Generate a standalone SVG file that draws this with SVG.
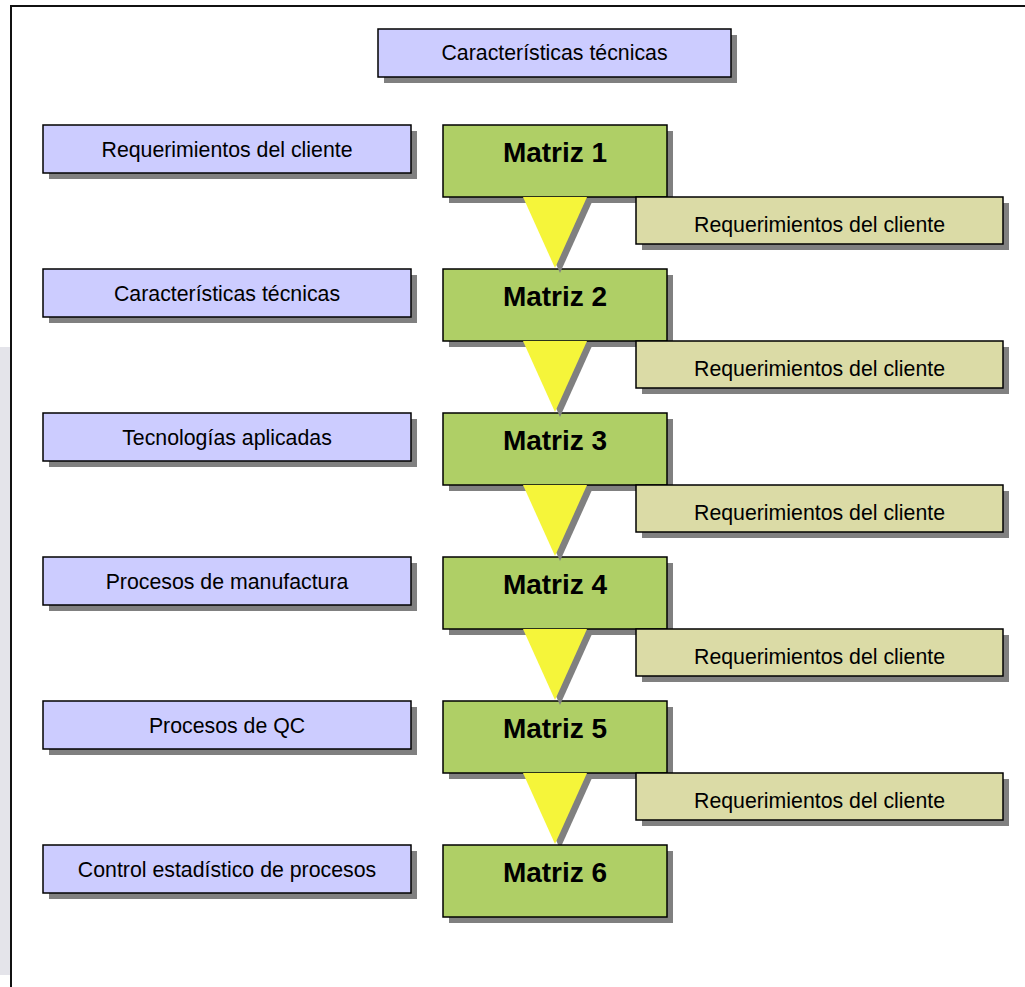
<svg xmlns="http://www.w3.org/2000/svg" width="1025" height="987" viewBox="0 0 1025 987">
<defs>
<style>
.sh{fill:#808080}
.blue{fill:#ccccff;stroke:#000;stroke-width:1.5}
.green{fill:#afcf66;stroke:#000;stroke-width:1.5}
.khaki{fill:#dbdba6;stroke:#000;stroke-width:1.5}
.tri{fill:#f5f53a}
.t{font-family:"Liberation Sans",Arial,sans-serif;font-size:21.3px;fill:#000;text-anchor:middle}
.m{font-family:"Liberation Sans",Arial,sans-serif;font-size:28px;font-weight:bold;fill:#000;text-anchor:middle}
</style>
</defs>
<rect x="0" y="0" width="1025" height="987" fill="#fff"/>
<rect x="0" y="347" width="10" height="628" fill="#e4e4ea"/>
<g id="frame" fill="none" stroke="#111" stroke-width="2">
<path d="M11,987 V6 H1025"/>
</g>
<g id="top">
<rect class="sh" x="384" y="35" width="353" height="48"/>
<rect class="blue" x="378" y="29" width="353" height="48"/>
<text class="t" x="554.5" y="60">Características técnicas</text>
</g>
<g id="left">
<g id="l1"><rect class="sh" x="49" y="131" width="368" height="48"/><rect class="blue" x="43" y="125" width="368" height="48"/><text class="t" x="227" y="157">Requerimientos del cliente</text></g>
<g id="l2"><rect class="sh" x="49" y="275" width="368" height="48"/><rect class="blue" x="43" y="269" width="368" height="48"/><text class="t" x="227" y="301">Características técnicas</text></g>
<g id="l3"><rect class="sh" x="49" y="419" width="368" height="48"/><rect class="blue" x="43" y="413" width="368" height="48"/><text class="t" x="227" y="445">Tecnologías aplicadas</text></g>
<g id="l4"><rect class="sh" x="49" y="563" width="368" height="48"/><rect class="blue" x="43" y="557" width="368" height="48"/><text class="t" x="227" y="589">Procesos de manufactura</text></g>
<g id="l5"><rect class="sh" x="49" y="707" width="368" height="48"/><rect class="blue" x="43" y="701" width="368" height="48"/><text class="t" x="227" y="733">Procesos de QC</text></g>
<g id="l6"><rect class="sh" x="49" y="851" width="368" height="48"/><rect class="blue" x="43" y="845" width="368" height="48"/><text class="t" x="227" y="877">Control estadístico de procesos</text></g>
</g>
<g id="m1"><rect class="sh" x="449" y="131" width="224" height="72"/><rect class="green" x="443" y="125" width="224" height="72"/><text class="m" x="555" y="162">Matriz 1</text></g>
<g id="m2"><rect class="sh" x="449" y="275" width="224" height="72"/><rect class="green" x="443" y="269" width="224" height="72"/><text class="m" x="555" y="306">Matriz 2</text></g>
<g id="m3"><rect class="sh" x="449" y="419" width="224" height="72"/><rect class="green" x="443" y="413" width="224" height="72"/><text class="m" x="555" y="450">Matriz 3</text></g>
<g id="m4"><rect class="sh" x="449" y="563" width="224" height="72"/><rect class="green" x="443" y="557" width="224" height="72"/><text class="m" x="555" y="594">Matriz 4</text></g>
<g id="m5"><rect class="sh" x="449" y="707" width="224" height="72"/><rect class="green" x="443" y="701" width="224" height="72"/><text class="m" x="555" y="738">Matriz 5</text></g>
<g id="k1"><rect class="sh" x="642" y="203" width="367" height="47"/><rect class="khaki" x="636" y="197" width="367" height="47"/><text class="t" x="819.5" y="232">Requerimientos del cliente</text></g>
<g id="k2"><rect class="sh" x="642" y="347" width="367" height="47"/><rect class="khaki" x="636" y="341" width="367" height="47"/><text class="t" x="819.5" y="376">Requerimientos del cliente</text></g>
<g id="k3"><rect class="sh" x="642" y="491" width="367" height="47"/><rect class="khaki" x="636" y="485" width="367" height="47"/><text class="t" x="819.5" y="520">Requerimientos del cliente</text></g>
<g id="k4"><rect class="sh" x="642" y="635" width="367" height="47"/><rect class="khaki" x="636" y="629" width="367" height="47"/><text class="t" x="819.5" y="664">Requerimientos del cliente</text></g>
<g id="k5"><rect class="sh" x="642" y="779" width="367" height="47"/><rect class="khaki" x="636" y="773" width="367" height="47"/><text class="t" x="819.5" y="808">Requerimientos del cliente</text></g>
<g id="connectors">
<polygon class="sh" points="528,202 592,202 560,273"/><polygon class="tri" points="523,197 587,197 555,268"/>
<polygon class="sh" points="528,346 592,346 560,417"/><polygon class="tri" points="523,341 587,341 555,412"/>
<polygon class="sh" points="528,490 592,490 560,561"/><polygon class="tri" points="523,485 587,485 555,556"/>
<polygon class="sh" points="528,634 592,634 560,705"/><polygon class="tri" points="523,629 587,629 555,700"/>
<polygon class="sh" points="528,778 592,778 560,849"/><polygon class="tri" points="523,773 587,773 555,844"/>
</g>
<g id="m6"><rect class="sh" x="449" y="851" width="224" height="72"/><rect class="green" x="443" y="845" width="224" height="72"/><text class="m" x="555" y="882">Matriz 6</text></g>
</svg>
